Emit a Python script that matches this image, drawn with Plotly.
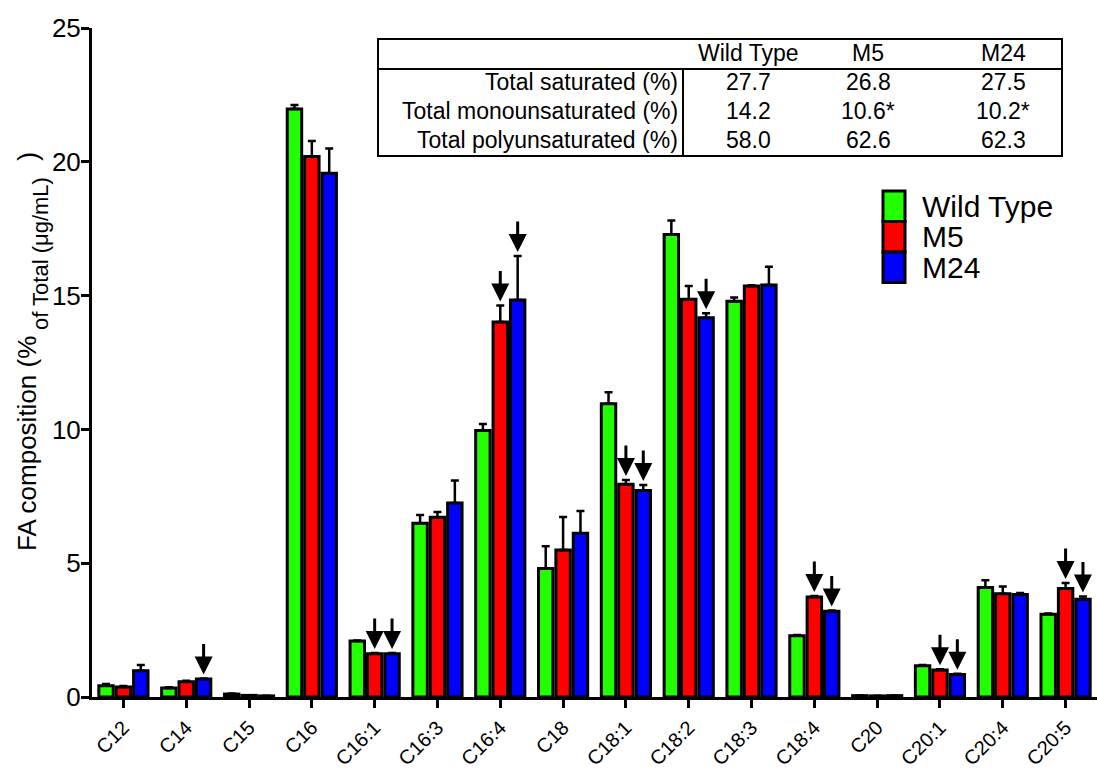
import plotly.graph_objects as go

# Fatty-acid species on the x axis
categories = ["C12", "C14", "C15", "C16", "C16:1", "C16:3", "C16:4", "C18",
              "C18:1", "C18:2", "C18:3", "C18:4", "C20", "C20:1", "C20:4", "C20:5"]

# Mean composition (% of total) and upper SEM per strain
wild_type = [0.42, 0.34, 0.11, 21.97, 2.09, 6.49, 9.96, 4.80,
             10.96, 17.28, 14.79, 2.29, 0.05, 1.17, 4.09, 3.09]
wild_type_err = [0.07, 0.02, 0.02, 0.15, 0.02, 0.31, 0.24, 0.83,
                 0.43, 0.53, 0.14, 0.03, 0.01, 0.03, 0.27, 0.03]
m5 = [0.37, 0.57, 0.06, 20.20, 1.62, 6.72, 14.01, 5.49,
      7.95, 14.86, 15.36, 3.74, 0.04, 1.01, 3.86, 4.05]
m5_err = [0.04, 0.04, 0.01, 0.58, 0.02, 0.19, 0.62, 1.24,
          0.16, 0.50, 0.03, 0.03, 0.01, 0.03, 0.27, 0.21]
m24 = [0.98, 0.67, 0.04, 19.57, 1.62, 7.25, 14.84, 6.12,
       7.72, 14.17, 15.40, 3.20, 0.05, 0.84, 3.83, 3.65]
m24_err = [0.22, 0.02, 0.01, 0.93, 0.02, 0.84, 1.64, 0.83,
           0.20, 0.17, 0.68, 0.03, 0.01, 0.03, 0.06, 0.11]

series_names = ["Wild Type", "M5", "M24"]
series_colors = ["#22ff00", "#ff0000", "#0000ff"]

# Significant changes flagged with a down arrow: (category, series index)
flagged = [("C14", 2), ("C16:1", 1), ("C16:1", 2), ("C16:4", 1), ("C16:4", 2),
           ("C18:1", 1), ("C18:1", 2), ("C18:2", 2), ("C18:4", 1), ("C18:4", 2),
           ("C20:1", 1), ("C20:1", 2), ("C20:5", 1), ("C20:5", 2)]

# Summary table
table_columns = ["Wild Type", "M5", "M24"]
table_rows = ["Total saturated (%)", "Total monounsaturated (%)", "Total polyunsaturated (%)"]
table_values = [["27.7", "26.8", "27.5"],
                ["14.2", "10.6*", "10.2*"],
                ["58.0", "62.6", "62.3"]]

FONT = "Arial, Liberation Sans, Helvetica, sans-serif"
W, H = 1097, 771
ML, MR, MT, MB = 92, 0, 28, 74
BARGAP, GROUPGAP = 0.17, 0.17


def px(x):
    return (x - ML) / (W - ML - MR)


def py(y):
    return (H - MB - y) / (H - MT - MB)


values = [wild_type, m5, m24]
errors = [wild_type_err, m5_err, m24_err]

fig = go.Figure()
for name, color, v, e in zip(series_names, series_colors, values, errors):
    fig.add_trace(go.Bar(
        x=categories, y=v, name=name,
        marker=dict(color=color, line=dict(color="black", width=3)),
        error_y=dict(type="data", array=e, arrayminus=[0] * len(e), symmetric=False,
                     color="black", thickness=2.5, width=4),
        showlegend=False,
    ))

# Arrows above flagged bars
cat_px = (W - ML - MR) / len(categories)
slot = cat_px * (1 - BARGAP) / 3
annotations = []
for cat, s in flagged:
    i = categories.index(cat)
    annotations.append(dict(
        x=cat, y=values[s][i] + errors[s][i], xref="x", yref="y",
        xshift=(s - 1) * slot, ax=0, ay=-36, standoff=4,
        showarrow=True, arrowhead=2, arrowsize=1.2, arrowwidth=3,
        arrowcolor="black", text="",
    ))

# Legend drawn as stacked swatches
shapes = []
leg_x0, leg_x1, leg_top, leg_h = 883, 905, 191, 30.5
for k, (name, color) in enumerate(zip(series_names, series_colors)):
    y0 = leg_top + k * leg_h
    shapes.append(dict(type="rect", xref="paper", yref="paper",
                       x0=px(leg_x0), x1=px(leg_x1), y0=py(y0), y1=py(y0 + leg_h),
                       fillcolor=color, line=dict(color="black", width=3)))
    annotations.append(dict(x=px(920), y=py(y0 + leg_h / 2), xref="paper", yref="paper",
                            xanchor="left", yanchor="middle", showarrow=False,
                            text=name, font=dict(family=FONT, size=30, color="black")))

# Summary table box and rules
tb_l, tb_r, tb_t, tb_b = 378, 1062, 39, 156
tb_head, tb_split = 69, 683
shapes.append(dict(type="rect", xref="paper", yref="paper",
                   x0=px(tb_l), x1=px(tb_r), y0=py(tb_b), y1=py(tb_t),
                   line=dict(color="black", width=2), fillcolor="white"))
shapes.append(dict(type="line", xref="paper", yref="paper",
                   x0=px(tb_l), x1=px(tb_r), y0=py(tb_head), y1=py(tb_head),
                   line=dict(color="black", width=2)))
shapes.append(dict(type="line", xref="paper", yref="paper",
                   x0=px(tb_split), x1=px(tb_split), y0=py(tb_head), y1=py(tb_b),
                   line=dict(color="black", width=2)))

col_centers = [748, 868, 1003]
row_centers = [82, 111, 140]
tfont = dict(family=FONT, size=23, color="black")
for c, label in zip(col_centers, table_columns):
    annotations.append(dict(x=px(c), y=py(53), xref="paper", yref="paper",
                            xanchor="center", yanchor="middle", showarrow=False,
                            text=label, font=tfont))
for r, label, row in zip(row_centers, table_rows, table_values):
    annotations.append(dict(x=px(680), y=py(r), xref="paper", yref="paper",
                            xanchor="right", yanchor="middle", showarrow=False,
                            text=label, font=tfont))
    for c, val in zip(col_centers, row):
        annotations.append(dict(x=px(c), y=py(r), xref="paper", yref="paper",
                                xanchor="center", yanchor="middle", showarrow=False,
                                text=val, font=tfont))

# Y-axis title: main text, subscripted unit, closing parenthesis
title_parts = [
    ("FA composition (%", 26, 27, 444),
    ("of Total (μg/mL)", 22, 40, 254),
    (")", 28, 27, 157),
]
for text, size, cx, cy in title_parts:
    annotations.append(dict(
        x=px(cx), y=py(cy), xref="paper", yref="paper",
        xanchor="center", yanchor="middle", textangle=-90, showarrow=False,
        text=text, font=dict(family=FONT, size=size, color="black"),
    ))

fig.update_layout(
    width=W, height=H,
    margin=dict(l=ML, r=MR, t=MT, b=MB, pad=0, autoexpand=False),
    paper_bgcolor="white", plot_bgcolor="white",
    barmode="group", bargap=BARGAP, bargroupgap=GROUPGAP,
    font=dict(family=FONT, color="black"),
    shapes=shapes, annotations=annotations,
)
fig.update_xaxes(
    range=[-0.5, len(categories) - 0.5], automargin=False,
    showline=True, linecolor="black", linewidth=3,
    ticks="outside", ticklen=8, tickwidth=3, tickcolor="black",
    tickangle=-45, tickfont=dict(family=FONT, size=20, color="black"),
    ticklabelstandoff=0,
    showgrid=False, zeroline=False,
)
fig.update_yaxes(
    range=[0, 25], tickvals=[0, 5, 10, 15, 20, 25], automargin=False,
    showline=True, linecolor="black", linewidth=3,
    ticks="outside", ticklen=8, tickwidth=3, tickcolor="black",
    tickfont=dict(family=FONT, size=26, color="black"),
    ticklabelstandoff=-5,
    showgrid=False, zeroline=False,
)

fig.write_html("out.html")
